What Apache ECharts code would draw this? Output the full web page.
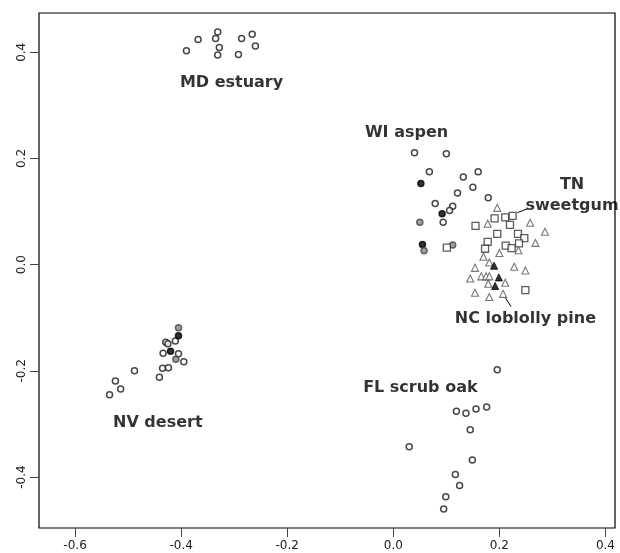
<!DOCTYPE html>
<html>
<head>
<meta charset="utf-8">
<script src="https://cdn.jsdelivr.net/npm/echarts@6/dist/echarts.min.js"></script>
<style>
html,body{margin:0;padding:0;background:#fff;}
#chart{width:620px;height:553px;}
</style>
</head>
<body>
<div id="chart"></div>
<script>
// ---- data (MDS coordinates) ----
const xTicks = [-0.6, -0.4, -0.2, 0.0, 0.2, 0.4];
const yTicks = [-0.4, -0.2, 0.0, 0.2, 0.4];

const mdEstuary = [[-0.390,0.403],[-0.368,0.424],[-0.335,0.426],[-0.331,0.438],[-0.328,0.409],
  [-0.331,0.395],[-0.286,0.426],[-0.266,0.434],[-0.260,0.412],[-0.292,0.396]];

const wiAspenOpen = [[0.040,0.211],[0.100,0.209],[0.068,0.175],[0.132,0.165],[0.160,0.175],
  [0.150,0.146],[0.121,0.135],[0.179,0.126],[0.079,0.115],[0.112,0.110],[0.106,0.102],[0.094,0.080]];
const wiAspenBlack = [[0.052,0.153],[0.092,0.096],[0.055,0.038]];
const wiAspenGrey = [[0.050,0.080],[0.058,0.026],[0.112,0.037]];

const tnSweetgum = [[0.155,0.073],[0.191,0.087],[0.211,0.089],[0.225,0.092],[0.220,0.075],
  [0.196,0.058],[0.235,0.058],[0.247,0.050],[0.178,0.043],[0.212,0.036],[0.237,0.040],
  [0.173,0.030],[0.223,0.031],[0.101,0.032],[0.249,-0.048]];

const ncPineOpen = [[0.196,0.107],[0.178,0.077],[0.258,0.079],[0.286,0.062],[0.268,0.041],
  [0.236,0.027],[0.200,0.022],[0.170,0.015],[0.181,0.004],[0.154,-0.006],[0.228,-0.004],
  [0.249,-0.011],[0.166,-0.022],[0.175,-0.022],[0.181,-0.022],[0.145,-0.026],[0.211,-0.034],
  [0.179,-0.036],[0.154,-0.053],[0.181,-0.061],[0.207,-0.055]];
const ncPineBlack = [[0.190,-0.002],[0.199,-0.024],[0.192,-0.040]];

const nvDesertOpen = [[-0.429,-0.146],[-0.425,-0.149],[-0.411,-0.144],[-0.434,-0.167],
  [-0.405,-0.168],[-0.395,-0.183],[-0.435,-0.195],[-0.424,-0.194],[-0.441,-0.212],
  [-0.488,-0.200],[-0.524,-0.219],[-0.514,-0.234],[-0.535,-0.245]];
const nvDesertBlack = [[-0.405,-0.134],[-0.420,-0.163]];
const nvDesertGrey = [[-0.405,-0.119],[-0.410,-0.178]];

const flScrubOak = [[0.196,-0.198],[0.119,-0.276],[0.137,-0.280],[0.156,-0.272],[0.176,-0.268],
  [0.145,-0.311],[0.030,-0.343],[0.149,-0.368],[0.117,-0.395],[0.125,-0.416],[0.099,-0.437],[0.095,-0.460]];

const siteNames = ['MD estuary','WI aspen','TN\nsweetgum','NC loblolly pine','NV desert','FL scrub oak'];
const siteLabelAt = [[-0.305,0.343],[0.025,0.249],[0.337,0.130],[0.249,-0.102],[-0.444,-0.298],[0.051,-0.232]];
const leaderTN = [[0.234,0.098],[0.252,0.105]];
const leaderNC = [[0.211,-0.062],[0.222,-0.079]];

// ---- styles ----
const openCircle = {symbol:'circle', symbolSize:6, itemStyle:{color:'#fff', borderColor:'#1a1a1a', borderWidth:1.5}};
const blackCircle = {symbol:'circle', symbolSize:6, itemStyle:{color:'#000', borderColor:'#000', borderWidth:1.5}};
const greyCircle = {symbol:'circle', symbolSize:6, itemStyle:{color:'#8a8a8a', borderColor:'#444', borderWidth:1.5}};
const openSquare = {symbol:'rect', symbolSize:7, itemStyle:{color:'#fff', borderColor:'#333', borderWidth:1.3}};
const openTri = {symbol:'triangle', symbolSize:7, itemStyle:{color:'#fff', borderColor:'#555', borderWidth:1.1}};
const blackTri = {symbol:'triangle', symbolSize:7, itemStyle:{color:'#000', borderColor:'#000', borderWidth:1}};

function sc(name, data, style){
  return Object.assign({type:'scatter', name:name, data:data, z:3, silent:true, animation:false}, style);
}
function leader(data){
  return {type:'line', data:data, symbol:'none', lineStyle:{color:'#000', width:1}, z:2, silent:true, animation:false};
}

const fmt = v => (Math.abs(v) < 1e-9 ? 0 : v).toFixed(1);

const chart = echarts.init(document.getElementById('chart'), null, {renderer:'canvas'});
chart.setOption({
  backgroundColor:'#fff',
  animation:false,
  grid:{left:39, right:5, top:13, bottom:25, show:true, borderColor:'#000', borderWidth:1.2, backgroundColor:'transparent'},
  xAxis:{
    type:'value', min:-0.668, max:0.418,
    axisLine:{show:false, onZero:false},
    splitLine:{show:false},
    axisTick:{show:true, length:9, lineStyle:{color:'#444', width:1}, customValues:xTicks},
    axisLabel:{margin:12, fontFamily:'DejaVu Sans', fontSize:12, color:'#222', customValues:xTicks, formatter:fmt, showMinLabel:true, showMaxLabel:true}
  },
  yAxis:{
    type:'value', min:-0.496, max:0.474,
    axisLine:{show:false, onZero:false},
    splitLine:{show:false},
    axisTick:{show:true, length:9, lineStyle:{color:'#444', width:1}, customValues:yTicks},
    axisLabel:{margin:11, rotate:90, fontFamily:'DejaVu Sans', fontSize:12, color:'#222', customValues:yTicks, formatter:fmt}
  },
  series:[
    sc('MD estuary', mdEstuary, openCircle),
    sc('WI aspen', wiAspenOpen, openCircle),
    sc('WI aspen black', wiAspenBlack, blackCircle),
    sc('WI aspen grey', wiAspenGrey, greyCircle),
    sc('TN sweetgum', tnSweetgum, openSquare),
    sc('NC loblolly pine', ncPineOpen, openTri),
    sc('NC loblolly pine black', ncPineBlack, blackTri),
    sc('NV desert', nvDesertOpen, openCircle),
    sc('NV desert black', nvDesertBlack, blackCircle),
    sc('NV desert grey', nvDesertGrey, greyCircle),
    sc('FL scrub oak', flScrubOak, openCircle),
    leader(leaderTN),
    leader(leaderNC),
    {
      type:'scatter', name:'labels', symbolSize:0, silent:true, z:4, animation:false,
      data: siteNames.map((n,i)=>({name:n, value:siteLabelAt[i]})),
      label:{show:true, position:'inside', formatter:p=>p.name, fontFamily:'DejaVu Sans', fontWeight:'bold',
        fontSize:16, color:'#000', lineHeight:21, align:'center', verticalAlign:'middle'}
    }
  ]
});
</script>
</body>
</html>
